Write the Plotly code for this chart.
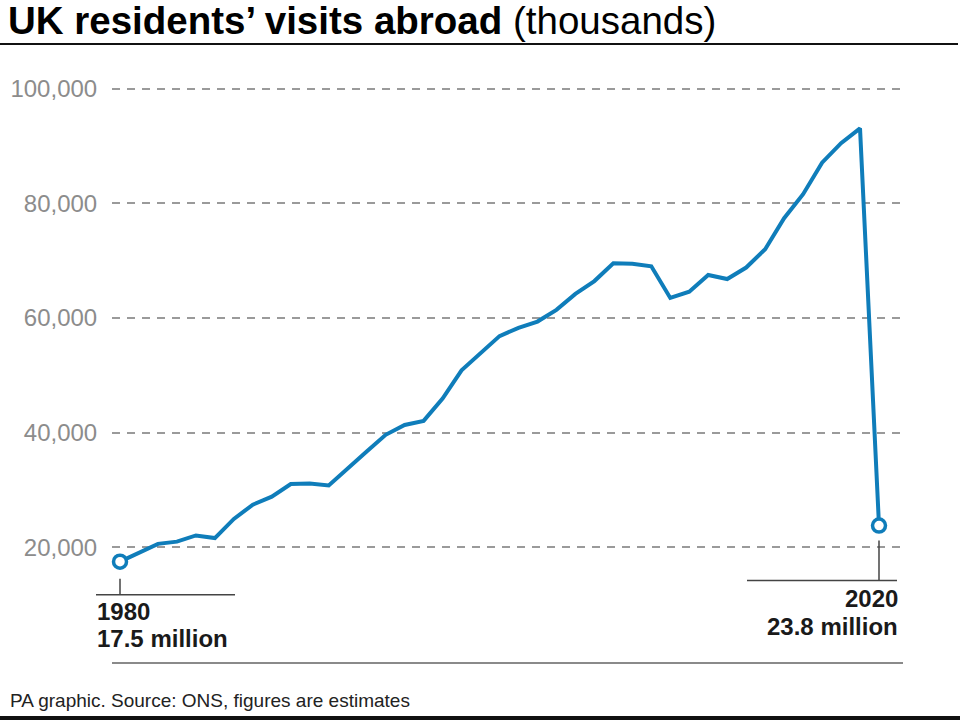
import plotly.graph_objects as go

# UK residents' visits abroad, thousands (ONS estimates)
years = list(range(1980, 2021))
visits = [
    17507, 19046, 20611, 20994, 22072, 21610, 24949, 27447, 28828, 31030,
    31150, 30808, 33836, 36720, 39630, 41345, 42050, 45957, 50872, 53881,
    56837, 58281, 59377, 61424, 64194, 66441, 69536, 69450, 69011, 63500,
    64600, 67500, 66800, 68800, 72000, 77400, 81600, 87100, 90500, 93086,
    23800,
]
y_ticks = [20000, 40000, 60000, 80000, 100000]
y_tick_labels = ["20,000", "40,000", "60,000", "80,000", "100,000"]
end_years = ["1980", "2020"]
end_labels = ["17.5 million", "23.8 million"]

BLUE = "#0f7dba"
GRID = "#9a9a9a"
FONT = "Liberation Sans, Arial, sans-serif"

W, H = 960, 720
L, R, T, B = 112, 903, 60, 662  # plot area in pixels
X_RANGE = [1979.578, 2021.265]
Y_RANGE = [0, 105000]


def px(x):
    return (x - L) / (R - L)


def py(y):
    return (B - y) / (B - T)


def xpaper(year):
    return (year - X_RANGE[0]) / (X_RANGE[1] - X_RANGE[0])


fig = go.Figure()

fig.add_trace(go.Scatter(
    x=years, y=visits, mode="lines",
    line=dict(color=BLUE, width=4),
    hoverinfo="skip", showlegend=False,
))
fig.add_trace(go.Scatter(
    x=[years[0], years[-1]], y=[visits[0], visits[-1]], mode="markers",
    marker=dict(size=13, color="white", line=dict(color=BLUE, width=3.5)),
    cliponaxis=False, hoverinfo="skip", showlegend=False,
))

shapes = []
annotations = []

# leader lines and labels for the first and last points
for i, side in ((0, "left"), (-1, "right")):
    yr, val = years[i], visits[i]
    if side == "left":
        v0, v1, h0, h1, xs, anchor = -17, -33, -24, 115, -25, "left"
        ys = (-50, -77)
    else:
        v0, v1, h0, h1, xs, anchor = -15, -55, -132, 18, 21, "right"
        ys = (-73, -101)
    shapes.append(dict(
        type="line", xref="paper", yref="y",
        xsizemode="pixel", ysizemode="pixel",
        xanchor=xpaper(yr), yanchor=val,
        x0=0, x1=0, y0=v0, y1=v1,
        line=dict(color="#444444", width=1.5),
    ))
    shapes.append(dict(
        type="line", xref="paper", yref="y",
        xsizemode="pixel", ysizemode="pixel",
        xanchor=xpaper(yr), yanchor=val,
        x0=h0, x1=h1, y0=v1, y1=v1,
        line=dict(color="#444444", width=1.5),
    ))
    for txt, yshift in zip((end_years[i], end_labels[i]), ys):
        annotations.append(dict(
            text="<b>%s</b>" % txt, xref="x", yref="y", x=yr, y=val,
            xshift=xs, yshift=yshift, xanchor=anchor, yanchor="middle",
            showarrow=False, font=dict(family=FONT, size=24, color="#1a1a1a"),
        ))

# rule under the title and bottom border
shapes.append(dict(
    type="line", xref="paper", yref="paper",
    x0=px(0), x1=px(958), y0=py(44), y1=py(44),
    line=dict(color="#111111", width=2),
))
shapes.append(dict(
    type="line", xref="paper", yref="paper",
    x0=px(0), x1=px(960), y0=py(718), y1=py(718),
    line=dict(color="#111111", width=4),
))

annotations.append(dict(
    text="PA graphic. Source: ONS, figures are estimates",
    xref="paper", yref="paper", x=px(8), y=py(700),
    xanchor="left", yanchor="middle", showarrow=False,
    font=dict(family=FONT, size=19, color="#222222"),
))

fig.update_layout(
    width=W, height=H,
    margin=dict(l=L, r=W - R, t=T, b=H - B),
    paper_bgcolor="white", plot_bgcolor="white",
    title=dict(
        text="<b>UK residents’ visits abroad</b> (thousands)",
        x=8 / W, xref="container", xanchor="left",
        y=1 - 21 / H, yref="container", yanchor="middle",
        font=dict(family=FONT, size=38.5, color="#000000"),
    ),
    shapes=shapes,
    annotations=annotations,
    showlegend=False,
)
fig.update_xaxes(
    range=X_RANGE, showgrid=False, zeroline=False, automargin=False,
    showticklabels=False, ticks="",
    showline=True, linecolor="#8a8a8a", linewidth=1.5,
)
fig.update_yaxes(
    range=Y_RANGE, tickvals=y_ticks, ticktext=y_tick_labels,
    showgrid=True, gridcolor=GRID, gridwidth=1.5, griddash="8px,7px",
    zeroline=False, showline=False, ticks="outside", ticklen=0,
    ticklabelstandoff=9, automargin=False,
    tickfont=dict(family=FONT, size=24, color="#8c8c8c"),
)

# drop the default 8px page margin so the figure fills the window
fig.write_html(
    "out.html",
    config={"displayModeBar": False},
    post_script="document.body.style.margin = '0';",
)
